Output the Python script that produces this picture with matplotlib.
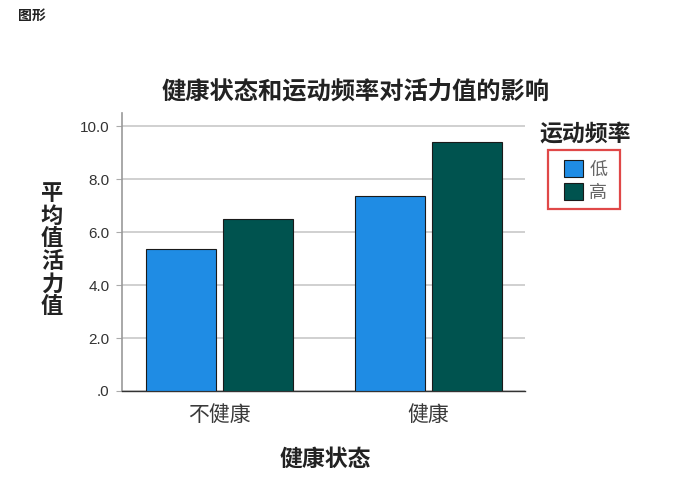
import matplotlib.pyplot as plt
from matplotlib.patches import Rectangle
import numpy as np

plt.rcParams['font.family'] = ['Noto Sans CJK SC', 'DejaVu Sans']

categories = ['不健康', '健康']
series_names = ['低', '高']
low_values = [5.35, 7.36]
high_values = [6.50, 9.40]
yticks = [0, 2, 4, 6, 8, 10]
ytick_labels = ['.0', '2.0', '4.0', '6.0', '8.0', '10.0']
colors = ['#1F8CE4', '#00534F']

W, H = 680, 495
fig = plt.figure(figsize=(6.8, 4.95), dpi=100)
ax = fig.add_axes([122/W, 1 - 391/H, (525 - 122)/W, (391 - 113)/H])

x = np.arange(len(categories))
w = 0.335
off = 0.185
ax.bar(x - off, low_values, w, color=colors[0], edgecolor='#1a1a1a', linewidth=0.8, label=series_names[0], zorder=3)
ax.bar(x + off, high_values, w, color=colors[1], edgecolor='#1a1a1a', linewidth=0.8, label=series_names[1], zorder=3)

ax.set_xlim(-0.465, 1.463)
ax.set_ylim(0, 10.5)
ax.set_yticks(yticks)
ax.set_yticklabels(ytick_labels, fontsize=11, color='#333333', family=['Liberation Sans', 'DejaVu Sans'])
ax.set_xticks(x)
ax.set_xticklabels(categories, fontsize=15, color='#3a3a3a')
ax.tick_params(axis='x', length=0, pad=9)
ax.tick_params(axis='y', length=4, color='#aaaaaa', pad=5)
ax.yaxis.grid(True, color='#c8c8c8', linewidth=1.2, zorder=0)

for s in ['top', 'right']:
    ax.spines[s].set_visible(False)
ax.spines['left'].set_color('#999999')
ax.spines['left'].set_linewidth(1.2)
ax.spines['bottom'].set_color('#333333')
ax.spines['bottom'].set_linewidth(1.0)

fig.text(356/W, 1 - 91/H, '健康状态和运动频率对活力值的影响', ha='center', va='center',
         fontsize=17.5, fontweight='bold', color='#222222')
fig.text(325/W, 1 - 459/H, '健康状态', ha='center', va='center', fontsize=16.5, fontweight='bold', color='#222222')
fig.text(52/W, 1 - 250/H, '\n'.join('平均值活力值'), ha='center', va='center', fontsize=16,
         fontweight='bold', linespacing=0.98, color='#222222')
fig.text(18/W, 1 - 16/H, '图形', ha='left', va='center', fontsize=10, fontweight='bold', color='#222222')

fig.text(585/W, 1 - 134/H, '运动频率', ha='center', va='center', fontsize=16.5, fontweight='bold', color='#222222')
fig.patches.append(Rectangle((548/W, 1 - 209/H), (620 - 548)/W, (209 - 150)/H, transform=fig.transFigure,
                             fill=False, edgecolor='#E04848', linewidth=1.6))
leg = ax.legend(loc='upper left', bbox_to_anchor=(555/W, 1 - 151/H), bbox_transform=fig.transFigure,
                fontsize=13, frameon=False, handlelength=1.05, handleheight=1.05,
                handletextpad=0.35, borderpad=0.0, labelspacing=0.25)
for t in leg.get_texts():
    t.set_color('#666666')

fig.savefig('out.png', dpi=100)
